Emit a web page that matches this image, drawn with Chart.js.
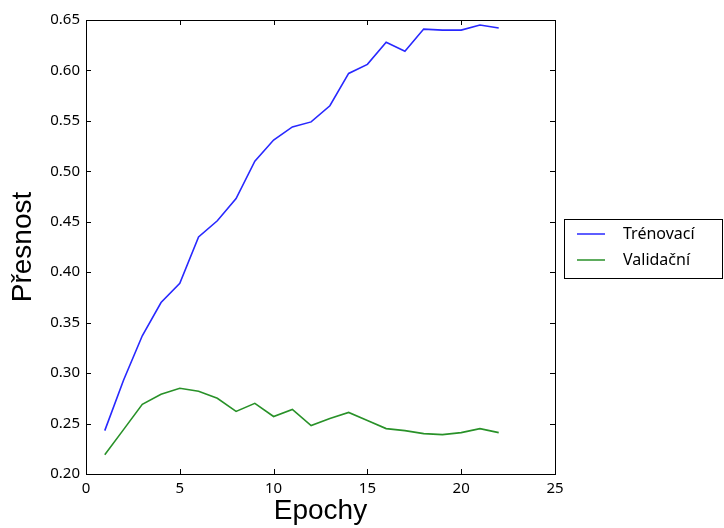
<!DOCTYPE html>
<html lang="cs">
<head>
<meta charset="UTF-8">
<title>Přesnost</title>
<script src="https://cdn.jsdelivr.net/npm/chart.js"></script>
<style>
  body { margin: 0; background: #fff; }
</style>
</head>
<body>
<canvas id="accChart" width="724" height="528"></canvas>
<script>
const epochs = [1, 2, 3, 4, 5, 6, 7, 8, 9, 10, 11, 12, 13, 14, 15, 16, 17, 18, 19, 20, 21, 22];
const trainAcc = [0.243, 0.293, 0.337, 0.370, 0.389, 0.435, 0.451, 0.473, 0.510, 0.531, 0.544, 0.549, 0.565, 0.597, 0.606, 0.628, 0.619, 0.641, 0.640, 0.640, 0.645, 0.642];
const valAcc = [0.219, 0.244, 0.269, 0.279, 0.285, 0.282, 0.275, 0.262, 0.270, 0.257, 0.264, 0.248, 0.255, 0.261, 0.253, 0.245, 0.243, 0.240, 0.239, 0.241, 0.245, 0.241];
const seriesNames = ['Trénovací', 'Validační'];

const toPoints = vals => vals.map((v, i) => ({ x: epochs[i], y: v }));

// matplotlib-like frame, inward ticks on all sides and an outside legend
const framePlugin = {
  id: 'frame',
  afterDraw(chart) {
    const ctx = chart.ctx;
    const a = chart.chartArea;
    const xs = chart.scales.x, ys = chart.scales.y;
    ctx.save();
    ctx.strokeStyle = '#000';
    ctx.lineWidth = 1;
    ctx.beginPath();
    xs.ticks.forEach(t => {
      const px = Math.round(xs.getPixelForValue(t.value)) + 0.5;
      ctx.moveTo(px, a.bottom); ctx.lineTo(px, a.bottom - 5);
      ctx.moveTo(px, a.top); ctx.lineTo(px, a.top + 5);
    });
    ys.ticks.forEach(t => {
      const py = Math.round(ys.getPixelForValue(t.value)) + 0.5;
      ctx.moveTo(a.left, py); ctx.lineTo(a.left + 5, py);
      ctx.moveTo(a.right, py); ctx.lineTo(a.right - 5, py);
    });
    ctx.stroke();
    ctx.strokeRect(Math.round(a.left) + 0.5, Math.round(a.top) + 0.5,
      Math.round(a.right - a.left), Math.round(a.bottom - a.top));

    // legend
    const lx = 564, ly = 219, lw = 158, lh = 59;
    ctx.fillStyle = '#fff';
    ctx.fillRect(lx, ly, lw, lh);
    ctx.strokeStyle = '#000';
    ctx.strokeRect(lx + 0.5, ly + 0.5, lw, lh);
    ctx.font = '16px "Noto Sans"';
    ctx.textBaseline = 'middle';
    chart.data.datasets.forEach((ds, i) => {
      const yy = ly + 15 + i * 26;
      ctx.strokeStyle = ds.borderColor;
      ctx.lineWidth = 1.5;
      ctx.beginPath();
      ctx.moveTo(lx + 13, yy); ctx.lineTo(lx + 41, yy);
      ctx.stroke();
      ctx.fillStyle = '#000';
      ctx.fillText(ds.label, lx + 59, yy);
    });
    ctx.restore();
  }
};

new Chart(document.getElementById('accChart'), {
  type: 'line',
  data: {
    datasets: [
      { label: seriesNames[0], data: toPoints(trainAcc), borderColor: 'rgb(40,40,255)', borderWidth: 1.6, pointRadius: 0, tension: 0 },
      { label: seriesNames[1], data: toPoints(valAcc), borderColor: 'rgb(40,145,40)', borderWidth: 1.6, pointRadius: 0, tension: 0 }
    ]
  },
  options: {
    responsive: false,
    animation: false,
    layout: { padding: { top: 20, right: 169, left: 0, bottom: 0 } },
    plugins: { legend: { display: false }, tooltip: { enabled: false } },
    scales: {
      x: {
        type: 'linear', min: 0, max: 25,
        afterFit(s) { s.height = 54; },
        grid: { display: false, drawTicks: false },
        border: { display: false },
        ticks: { stepSize: 5, padding: 6, color: '#000', font: { family: 'Noto Sans', size: 15 } },
        title: { display: true, text: 'Epochy', color: '#000', padding: 0, font: { family: 'Liberation Sans', size: 28 } }
      },
      y: {
        type: 'linear', min: 0.2, max: 0.65,
        afterFit(s) { s.width = 86; },
        grid: { display: false, drawTicks: false },
        border: { display: false },
        ticks: { stepSize: 0.05, padding: 6, color: '#000', font: { family: 'Noto Sans', size: 15 },
          callback: v => v.toFixed(2) },
        title: { display: true, text: 'Přesnost', color: '#000', padding: { top: 6, bottom: 0 }, font: { family: 'Liberation Sans', size: 28 } }
      }
    }
  },
  plugins: [framePlugin]
});
</script>
</body>
</html>
